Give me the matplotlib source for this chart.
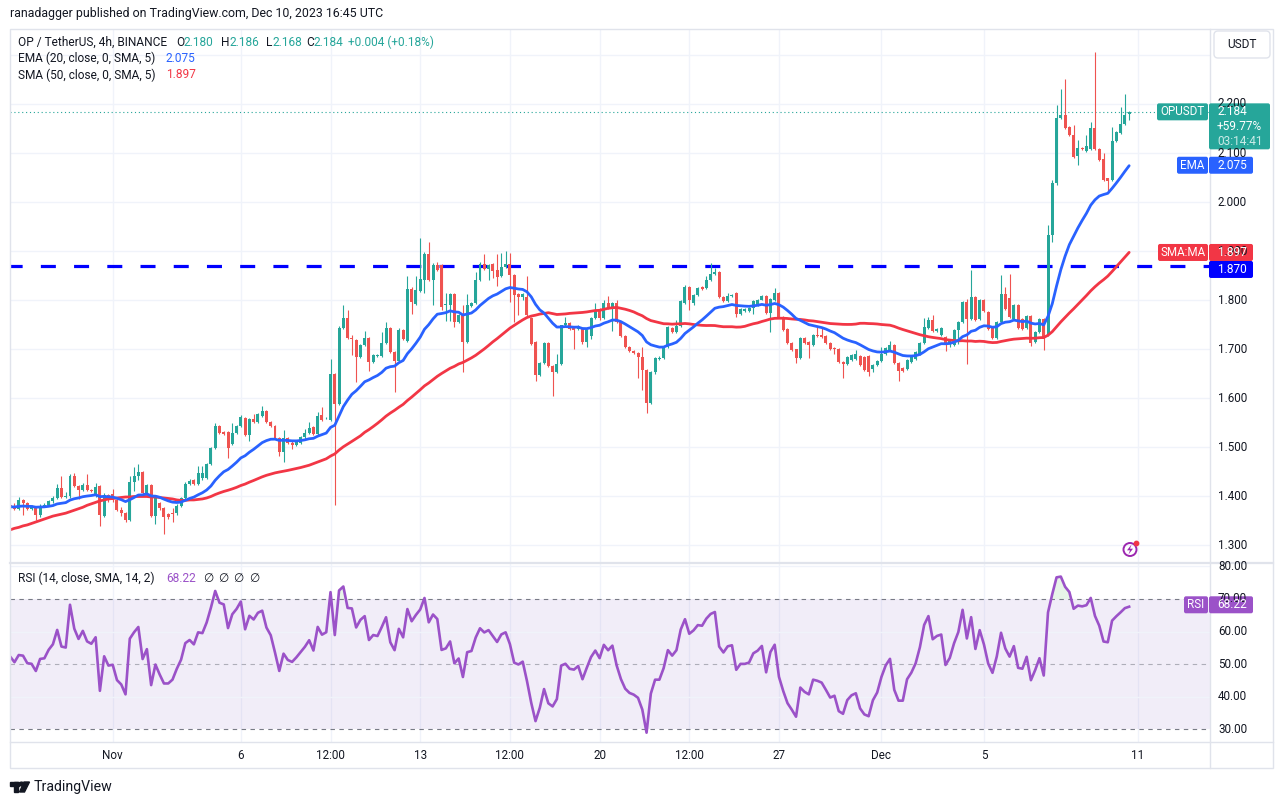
import numpy as np
import pandas as pd
import matplotlib
matplotlib.use("Agg")
import matplotlib.pyplot as plt
from matplotlib.patches import FancyBboxPatch, Circle, Polygon, Rectangle

W, H = 1284, 805
plt.rcParams['font.family'] = ['Roboto', 'DejaVu Sans']

# ---------------- data (4h candles, Oct 28 00:00 -> Dec 10 16:00) ----------------
opens = [
    1.382, 1.380, 1.374, 1.391, 1.385, 1.374, 1.377, 1.362, 1.380, 1.382,
    1.389, 1.395, 1.416, 1.398, 1.399, 1.440, 1.421, 1.412, 1.422, 1.413,
    1.404, 1.420, 1.360, 1.403, 1.404, 1.392, 1.372, 1.366, 1.352, 1.428,
    1.440, 1.450, 1.406, 1.423, 1.359, 1.386, 1.376, 1.363, 1.365, 1.365,
    1.379, 1.395, 1.424, 1.432, 1.425, 1.436, 1.436, 1.466, 1.498, 1.543,
    1.530, 1.530, 1.507, 1.529, 1.542, 1.559, 1.525, 1.557, 1.552, 1.563,
    1.573, 1.552, 1.542, 1.518, 1.489, 1.518, 1.508, 1.505, 1.509, 1.520,
    1.528, 1.540, 1.526, 1.565, 1.559, 1.556, 1.649, 1.588, 1.743, 1.763,
    1.722, 1.719, 1.683, 1.709, 1.722, 1.673, 1.686, 1.686, 1.712, 1.742,
    1.693, 1.676, 1.738, 1.716, 1.823, 1.791, 1.818, 1.840, 1.893, 1.840,
    1.872, 1.871, 1.790, 1.789, 1.813, 1.755, 1.769, 1.715, 1.788, 1.794,
    1.840, 1.874, 1.864, 1.873, 1.861, 1.848, 1.868, 1.874, 1.851, 1.812,
    1.806, 1.806, 1.763, 1.715, 1.646, 1.672, 1.712, 1.665, 1.654, 1.669,
    1.748, 1.753, 1.743, 1.740, 1.740, 1.715, 1.727, 1.763, 1.781, 1.763,
    1.793, 1.783, 1.793, 1.756, 1.727, 1.705, 1.695, 1.691, 1.684, 1.657,
    1.589, 1.654, 1.680, 1.682, 1.705, 1.743, 1.735, 1.746, 1.794, 1.827,
    1.793, 1.810, 1.826, 1.824, 1.841, 1.853, 1.858, 1.807, 1.797, 1.809,
    1.814, 1.771, 1.778, 1.778, 1.783, 1.790, 1.801, 1.808, 1.773, 1.800,
    1.814, 1.766, 1.740, 1.713, 1.699, 1.681, 1.722, 1.715, 1.708, 1.729,
    1.729, 1.727, 1.712, 1.703, 1.701, 1.674, 1.669, 1.678, 1.679, 1.686,
    1.684, 1.686, 1.659, 1.668, 1.675, 1.690, 1.697, 1.709, 1.672, 1.661,
    1.659, 1.673, 1.679, 1.690, 1.713, 1.743, 1.759, 1.736, 1.728, 1.724,
    1.711, 1.709, 1.738, 1.755, 1.796, 1.762, 1.806, 1.762, 1.801, 1.776,
    1.743, 1.722, 1.755, 1.813, 1.804, 1.762, 1.790, 1.762, 1.743, 1.767,
    1.714, 1.735, 1.762, 1.728, 1.932, 2.039, 2.171, 2.178, 2.153, 2.137,
    2.094, 2.110, 2.105, 2.109, 2.151, 2.109, 2.087, 2.048, 2.044, 2.124,
    2.141, 2.160, 2.180,
]
highs = [
    1.386, 1.386, 1.398, 1.393, 1.387, 1.381, 1.379, 1.384, 1.385, 1.391,
    1.399, 1.425, 1.441, 1.408, 1.444, 1.447, 1.423, 1.426, 1.445, 1.415,
    1.426, 1.422, 1.406, 1.405, 1.415, 1.394, 1.377, 1.368, 1.440, 1.459,
    1.466, 1.452, 1.425, 1.425, 1.398, 1.388, 1.378, 1.366, 1.376, 1.383,
    1.397, 1.428, 1.434, 1.434, 1.462, 1.462, 1.468, 1.500, 1.549, 1.545,
    1.532, 1.532, 1.550, 1.545, 1.566, 1.561, 1.559, 1.568, 1.570, 1.584,
    1.575, 1.554, 1.544, 1.520, 1.535, 1.520, 1.512, 1.514, 1.522, 1.536,
    1.551, 1.542, 1.572, 1.582, 1.561, 1.680, 1.651, 1.746, 1.789, 1.780,
    1.728, 1.721, 1.711, 1.736, 1.724, 1.690, 1.689, 1.734, 1.756, 1.744,
    1.695, 1.742, 1.740, 1.849, 1.826, 1.850, 1.927, 1.897, 1.918, 1.876,
    1.878, 1.873, 1.814, 1.815, 1.815, 1.771, 1.790, 1.812, 1.796, 1.857,
    1.878, 1.894, 1.874, 1.875, 1.894, 1.896, 1.900, 1.896, 1.853, 1.814,
    1.815, 1.850, 1.765, 1.717, 1.674, 1.714, 1.714, 1.667, 1.690, 1.750,
    1.765, 1.755, 1.745, 1.748, 1.742, 1.741, 1.765, 1.793, 1.783, 1.800,
    1.808, 1.795, 1.800, 1.758, 1.729, 1.707, 1.697, 1.693, 1.704, 1.659,
    1.656, 1.684, 1.685, 1.707, 1.747, 1.745, 1.759, 1.799, 1.831, 1.829,
    1.812, 1.826, 1.828, 1.848, 1.875, 1.865, 1.860, 1.809, 1.815, 1.813,
    1.816, 1.783, 1.783, 1.785, 1.799, 1.803, 1.810, 1.810, 1.805, 1.824,
    1.816, 1.768, 1.742, 1.715, 1.701, 1.724, 1.724, 1.717, 1.731, 1.745,
    1.744, 1.729, 1.714, 1.705, 1.703, 1.676, 1.685, 1.690, 1.698, 1.688,
    1.686, 1.688, 1.670, 1.677, 1.704, 1.704, 1.716, 1.711, 1.674, 1.663,
    1.679, 1.686, 1.696, 1.715, 1.763, 1.765, 1.769, 1.743, 1.745, 1.726,
    1.720, 1.740, 1.757, 1.798, 1.803, 1.862, 1.808, 1.803, 1.803, 1.778,
    1.745, 1.757, 1.852, 1.827, 1.854, 1.792, 1.792, 1.764, 1.769, 1.769,
    1.737, 1.764, 1.764, 1.954, 2.045, 2.197, 2.230, 2.250, 2.155, 2.158,
    2.126, 2.112, 2.136, 2.163, 2.306, 2.111, 2.099, 2.050, 2.153, 2.145,
    2.193, 2.221, 2.186,
]
lows = [
    1.373, 1.371, 1.372, 1.362, 1.372, 1.372, 1.352, 1.358, 1.378, 1.379,
    1.386, 1.393, 1.396, 1.395, 1.396, 1.419, 1.394, 1.410, 1.411, 1.409,
    1.398, 1.338, 1.358, 1.388, 1.388, 1.369, 1.360, 1.346, 1.350, 1.410,
    1.432, 1.404, 1.403, 1.357, 1.342, 1.372, 1.323, 1.354, 1.346, 1.362,
    1.377, 1.393, 1.422, 1.422, 1.423, 1.433, 1.434, 1.464, 1.496, 1.527,
    1.525, 1.478, 1.505, 1.527, 1.540, 1.523, 1.512, 1.550, 1.550, 1.561,
    1.549, 1.540, 1.516, 1.482, 1.469, 1.506, 1.495, 1.503, 1.506, 1.517,
    1.526, 1.524, 1.524, 1.553, 1.557, 1.554, 1.381, 1.585, 1.741, 1.720,
    1.687, 1.633, 1.681, 1.707, 1.656, 1.671, 1.683, 1.684, 1.710, 1.691,
    1.613, 1.674, 1.718, 1.714, 1.772, 1.789, 1.816, 1.815, 1.838, 1.789,
    1.860, 1.779, 1.758, 1.757, 1.744, 1.753, 1.653, 1.713, 1.786, 1.792,
    1.838, 1.862, 1.841, 1.845, 1.828, 1.846, 1.866, 1.796, 1.756, 1.770,
    1.800, 1.768, 1.708, 1.635, 1.644, 1.670, 1.663, 1.605, 1.652, 1.667,
    1.746, 1.738, 1.700, 1.738, 1.710, 1.705, 1.720, 1.761, 1.760, 1.761,
    1.781, 1.736, 1.754, 1.725, 1.703, 1.693, 1.689, 1.640, 1.616, 1.569,
    1.587, 1.650, 1.678, 1.680, 1.703, 1.732, 1.733, 1.744, 1.792, 1.780,
    1.789, 1.808, 1.821, 1.822, 1.839, 1.851, 1.805, 1.795, 1.795, 1.807,
    1.766, 1.769, 1.776, 1.776, 1.771, 1.788, 1.799, 1.771, 1.735, 1.798,
    1.764, 1.737, 1.711, 1.696, 1.671, 1.679, 1.711, 1.681, 1.706, 1.725,
    1.722, 1.710, 1.697, 1.690, 1.672, 1.640, 1.667, 1.676, 1.677, 1.665,
    1.655, 1.645, 1.654, 1.666, 1.673, 1.688, 1.695, 1.670, 1.634, 1.653,
    1.657, 1.671, 1.677, 1.688, 1.711, 1.741, 1.734, 1.734, 1.726, 1.695,
    1.704, 1.707, 1.711, 1.753, 1.670, 1.760, 1.757, 1.760, 1.775, 1.739,
    1.720, 1.720, 1.753, 1.780, 1.763, 1.760, 1.741, 1.739, 1.741, 1.707,
    1.712, 1.733, 1.697, 1.726, 1.918, 2.035, 2.169, 2.149, 2.135, 2.090,
    2.076, 2.106, 2.103, 2.107, 2.107, 2.083, 2.042, 2.020, 2.042, 2.122,
    2.139, 2.158, 2.168,
]
closes = [
    1.378, 1.374, 1.391, 1.385, 1.374, 1.377, 1.362, 1.380, 1.382, 1.389,
    1.395, 1.416, 1.398, 1.399, 1.440, 1.421, 1.412, 1.422, 1.413, 1.411,
    1.418, 1.362, 1.403, 1.391, 1.392, 1.372, 1.366, 1.352, 1.428, 1.440,
    1.450, 1.406, 1.423, 1.359, 1.396, 1.376, 1.357, 1.357, 1.363, 1.380,
    1.395, 1.425, 1.431, 1.425, 1.447, 1.446, 1.466, 1.498, 1.543, 1.529,
    1.527, 1.498, 1.529, 1.542, 1.561, 1.525, 1.557, 1.552, 1.568, 1.573,
    1.552, 1.542, 1.518, 1.489, 1.518, 1.508, 1.505, 1.512, 1.520, 1.528,
    1.538, 1.526, 1.564, 1.555, 1.559, 1.649, 1.588, 1.743, 1.763, 1.722,
    1.721, 1.683, 1.709, 1.722, 1.673, 1.688, 1.686, 1.712, 1.742, 1.693,
    1.676, 1.738, 1.720, 1.822, 1.795, 1.820, 1.842, 1.893, 1.840, 1.872,
    1.862, 1.786, 1.791, 1.813, 1.755, 1.769, 1.715, 1.790, 1.794, 1.840,
    1.874, 1.864, 1.872, 1.859, 1.846, 1.868, 1.874, 1.851, 1.811, 1.807,
    1.813, 1.770, 1.710, 1.646, 1.672, 1.712, 1.665, 1.654, 1.669, 1.748,
    1.753, 1.740, 1.738, 1.746, 1.715, 1.739, 1.763, 1.778, 1.763, 1.793,
    1.783, 1.793, 1.756, 1.727, 1.705, 1.695, 1.691, 1.684, 1.657, 1.589,
    1.654, 1.682, 1.682, 1.705, 1.745, 1.734, 1.746, 1.797, 1.827, 1.801,
    1.810, 1.824, 1.823, 1.841, 1.853, 1.858, 1.807, 1.797, 1.809, 1.811,
    1.771, 1.781, 1.781, 1.783, 1.797, 1.801, 1.808, 1.773, 1.803, 1.815,
    1.766, 1.739, 1.713, 1.698, 1.681, 1.722, 1.713, 1.708, 1.729, 1.727,
    1.724, 1.712, 1.699, 1.701, 1.674, 1.669, 1.683, 1.688, 1.690, 1.667,
    1.657, 1.654, 1.668, 1.675, 1.690, 1.702, 1.709, 1.672, 1.656, 1.656,
    1.677, 1.684, 1.694, 1.713, 1.745, 1.760, 1.736, 1.741, 1.743, 1.709,
    1.718, 1.738, 1.755, 1.796, 1.762, 1.806, 1.759, 1.801, 1.777, 1.741,
    1.722, 1.755, 1.813, 1.782, 1.765, 1.790, 1.743, 1.741, 1.767, 1.713,
    1.735, 1.762, 1.721, 1.932, 2.039, 2.171, 2.178, 2.151, 2.137, 2.092,
    2.110, 2.108, 2.114, 2.151, 2.109, 2.085, 2.044, 2.042, 2.124, 2.143,
    2.160, 2.178, 2.184,
]
# SMA(50) values for the first 49 candles (history before the window)
sma50_start = [
    1.331, 1.334, 1.336, 1.339, 1.341, 1.344, 1.347, 1.350, 1.353, 1.356,
    1.359, 1.361, 1.363, 1.365, 1.368, 1.371, 1.374, 1.377, 1.381, 1.384,
    1.387, 1.390, 1.392, 1.394, 1.395, 1.396, 1.397, 1.398, 1.398, 1.399,
    1.399, 1.399, 1.399, 1.398, 1.398, 1.397, 1.396, 1.395, 1.394, 1.392,
    1.391, 1.391, 1.392, 1.392, 1.393, 1.394, 1.396, 1.399, 1.403,
]
# RSI(14) values for the first 14 candles
rsi_start = [52.3, 50.6, 52.8, 52.6, 50.3, 50.1, 47.9, 51.6, 51.8, 54.4,
             56.1, 60.5, 55.4, 55.1]

tick_pos = [24, 54, 75, 96, 117, 138, 159, 180, 204, 228, 264]
tick_labels = ["Nov", "6", "12:00", "13", "12:00", "20", "12:00", "27", "Dec", "5", "11"]
price_ticks = [1.3, 1.4, 1.5, 1.6, 1.7, 1.8, 1.9, 2.0, 2.1, 2.2, 2.3]
rsi_ticks = [30, 40, 50, 60, 70, 80]
level = 1.870
last_o, last_h, last_l, last_c = 2.180, 2.186, 2.168, 2.184
chg, chg_pct, pct_total = 0.004, 0.18, 59.77
ema_last, sma_last, rsi_last = 2.075, 1.897, 68.22
countdown = "03:14:41"

# ---------------- indicators ----------------
n = len(closes)
assert len(opens) == n and len(highs) == n and len(lows) == n
o = np.array(opens); h = np.array(highs); l = np.array(lows); c = np.array(closes)
x = np.arange(n)
ema20 = pd.Series(c).ewm(span=20, adjust=False).mean().values
sma50 = pd.Series(c).rolling(50).mean().values
sma50[:len(sma50_start)] = sma50_start
d = np.diff(c)
g = np.clip(d, 0, None); ls = np.clip(-d, 0, None)
ag = np.full(n, np.nan); al = np.full(n, np.nan)
ag[14] = g[:14].mean(); al[14] = ls[:14].mean()
for i in range(15, n):
    ag[i] = (ag[i - 1] * 13 + g[i - 1]) / 14
    al[i] = (al[i - 1] * 13 + ls[i - 1]) / 14
rsi = np.full(n, np.nan)
rsi[14:] = 100 - 100 / (1 + ag[14:] / al[14:])
rsi[:14] = rsi_start

# ---------------- styling ----------------
UP, DN = '#26a69a', '#ef5350'
EMA_C, SMA_C = '#2962ff', '#f23645'
RSI_C = '#9b52c8'
TXT = '#131722'
GRID = '#f0f3fa'
BORDER = '#e0e3eb'

fig = plt.figure(figsize=(W / 100, H / 100), dpi=100)
fig.patch.set_facecolor('white')

def fx(px_):
    return px_ / W

def fy(py_):
    return 1 - py_ / H

ax = fig.add_axes([fx(10), fy(563), fx(1210) - fx(10), fy(29) - fy(563)])
ax2 = fig.add_axes([fx(10), fy(742), fx(1210) - fx(10), fy(563) - fy(742)])
for a in (ax, ax2):
    a.set_xlim(-0.05, 280.93)
    for s in a.spines.values():
        s.set_visible(False)
    a.set_xticks([]); a.set_yticks([])
    a.set_facecolor('white')
ax.set_ylim(1.26327, 2.35306)
ax2.set_ylim(26.10, 81.05)

for p in price_ticks:
    ax.axhline(p, color=GRID, lw=1.0, zorder=0)
for t in tick_pos:
    ax.axvline(t, color=GRID, lw=1.0, zorder=0)
    ax2.axvline(t, color=GRID, lw=1.0, zorder=0)

# level line
ax.axhline(level, color='#0000ff', lw=2.3, linestyle=(0.9, (4.7, 5.7)), zorder=2)
# last price dotted
ax.axhline(last_c, color=UP, lw=0.8, linestyle=(0, (1, 2.5)), zorder=2)

# candles
col = np.where(c >= o, UP, DN)
ax.vlines(x, l, h, colors=col, lw=0.8, zorder=3)
body = np.maximum(np.abs(c - o), 0.0016)
ax.bar(x, body, bottom=np.minimum(o, c) - (body - np.abs(c - o)) / 2,
       width=0.70, color=col, linewidth=0, zorder=4)

ax.plot(x, sma50, color=SMA_C, lw=2.0, zorder=5, solid_capstyle='round')
ax.plot(x, ema20, color=EMA_C, lw=2.0, zorder=6, solid_capstyle='round')

# RSI pane
ax2.axhspan(30, 70, color='#7e57c2', alpha=0.10, lw=0, zorder=0)
for r in (40, 60, 80):
    ax2.axhline(r, color=GRID, lw=1.0, zorder=0.5)
ax2.axhline(70, color='#787b86', lw=0.8, linestyle=(0, (4, 4)), zorder=1)
ax2.axhline(30, color='#787b86', lw=0.8, linestyle=(0, (4, 4)), zorder=1)
ax2.axhline(50, color='#787b86', lw=0.8, alpha=0.55, linestyle=(0, (4, 4)), zorder=1)
ax2.fill_between(x, 70, rsi, where=rsi >= 70, interpolate=True,
                 color='#4caf50', alpha=0.13, lw=0, zorder=1.5)
ax2.plot(x, rsi, color=RSI_C, lw=1.9, zorder=3)

# ---------------- overlay (texts, labels, frame) ----------------
ov = fig.add_axes([0, 0, 1, 1])
ov.set_xlim(0, W); ov.set_ylim(H, 0)
ov.axis('off'); ov.set_zorder(10); ov.patch.set_alpha(0)

def py(v):
    return H - ax.transData.transform((0, v))[1]

def ry(v):
    return H - ax2.transData.transform((0, v))[1]

def pxi(i):
    return ax.transData.transform((i, 1.5))[0]

def T(xx, yy, s, color=TXT, size=8.6, ha='left', va='center', **kw):
    ov.text(xx, yy, s, color=color, fontsize=size, ha=ha, va=va, zorder=8, **kw)

def box(x0, y0, x1, y1, color, r=2.0, z=6, ec='none', lw=0):
    ov.add_patch(FancyBboxPatch((x0, y0), x1 - x0, y1 - y0,
                                boxstyle=f"round,pad=0,rounding_size={r}",
                                fc=color, ec=ec, lw=lw, zorder=z))

# frame
ov.add_patch(Rectangle((10, 29), 1263, 739, fill=False, ec=BORDER, lw=1.0, zorder=4))
ov.plot([10, 1273], [563, 563], color=BORDER, lw=1.6, zorder=4)
ov.plot([10, 1273], [742, 742], color=BORDER, lw=1.0, zorder=4)
ov.plot([1210, 1210], [29, 768], color=BORDER, lw=1.0, zorder=4)

# header
T(10, 14, "ranadagger published on TradingView.com, Dec 10, 2023 16:45 UTC", size=8.9)
T(18, 42, "OP / TetherUS, 4h, BINANCE", size=8.6)
T(176, 42, "O", size=8.6); T(183.5, 42, f"{last_o:.3f}", color=UP, size=8.6)
T(221, 42, "H", size=8.6); T(229, 42, f"{last_h:.3f}", color=UP, size=8.6)
T(266, 42, "L", size=8.6); T(272.5, 42, f"{last_l:.3f}", color=UP, size=8.6)
T(306, 42, "C", size=8.6); T(313, 42, f"{last_c:.3f}", color=UP, size=8.6)
T(348, 42, f"+{chg:.3f} (+{chg_pct:.2f}%)", color=UP, size=8.6)
T(18, 58.5, "EMA (20, close, 0, SMA, 5)", size=8.6)
T(166, 58.5, f"{ema_last:.3f}", color=EMA_C, size=8.6)
T(18, 75, "SMA (50, close, 0, SMA, 5)", size=8.6)
T(166, 75, f"{sma_last:.3f}", color=SMA_C, size=8.6)
T(18, 578, "RSI (14, close, SMA, 14, 2)", size=8.6)
T(166, 578, f"{rsi_last:.2f}", color=RSI_C, size=8.6)
for k in range(4):
    T(203 + 15.3 * k, 578, "\u2205", size=8.6, family=['DejaVu Sans'])

# price axis labels (the top one sits under the currency button)
for p in price_ticks:
    yy = py(p)
    if 62 < yy < 560:
        T(1218, yy, f"{p:.3f}", size=8.4)
for r in rsi_ticks:
    T(1218, ry(r), f"{r:.2f}", size=8.4)

# time labels
for t, lab in zip(tick_pos, tick_labels):
    T(pxi(t), 755, lab, size=8.4, ha='center')

# USDT button
box(1214, 31, 1270, 58, 'white', r=4, ec=BORDER, lw=1.0, z=7)
T(1242, 44.5, "USDT", size=8.6, ha='center')

# last price labels
yl = py(last_c)
box(1157, yl - 8.5, 1208, yl + 8.5, UP)
T(1182.5, yl, "OPUSDT", color='white', size=8.4, ha='center')
box(1209, yl - 8.5, 1270, yl + 37.5, UP)
T(1217, yl, f"{last_c:.3f}", color='white', size=8.6)
T(1217, yl + 15, f"+{pct_total:.2f}%", color='white', size=8.6)
T(1217, yl + 30, countdown, color='#c9ebe7', size=8.6)

# EMA label
ye = py(ema_last)
box(1177, ye - 8.5, 1208, ye + 8.5, EMA_C)
T(1192.5, ye, "EMA", color='white', size=8.4, ha='center')
box(1209, ye - 8.5, 1253, ye + 8.5, EMA_C)
T(1217, ye, f"{ema_last:.3f}", color='white', size=8.6)

# SMA label
ys = py(sma_last)
box(1158, ys - 8.5, 1208, ys + 8.5, SMA_C)
T(1183, ys, "SMA:MA", color='white', size=8.4, ha='center')
box(1209, ys - 8.5, 1253, ys + 8.5, SMA_C)
T(1217, ys, f"{sma_last:.3f}", color='white', size=8.6)

# level label (pushed below SMA label to avoid overlap)
yv = max(py(level), ys + 17)
box(1209, yv - 8.5, 1253, yv + 8.5, '#0000ff')
T(1217, yv, f"{level:.3f}", color='white', size=8.6)

# RSI label
yr = ry(rsi_last)
box(1184, yr - 8.5, 1208, yr + 8.5, RSI_C)
T(1196, yr, "RSI", color='white', size=8.4, ha='center')
box(1209, yr - 8.5, 1253, yr + 8.5, RSI_C)
T(1217, yr, f"{rsi_last:.2f}", color='white', size=8.6)

# lightning icon
ov.add_patch(Circle((1130, 549.5), 6.5, fill=False, ec='#9c27b0', lw=1.4, zorder=7))
ov.add_patch(Polygon([(1131.5, 544.5), (1127, 550.3), (1130, 550.3), (1128.5, 554.5),
                      (1133, 548.7), (1130, 548.7)], closed=True, fc='#9c27b0',
                     ec='none', zorder=7))
ov.add_patch(Circle((1136.5, 543.5), 2.2, color='#f23645', zorder=8))

# TradingView logo
ov.add_patch(Rectangle((10, 782), 9, 3.5, color=TXT, zorder=7))
ov.add_patch(Rectangle((14, 782), 4, 10, color=TXT, zorder=7))
ov.add_patch(Circle((21.5, 784), 1.9, color=TXT, zorder=7))
ov.add_patch(Polygon([(24, 782), (29.5, 782), (24.5, 792), (19.5, 792)], closed=True,
                     color=TXT, zorder=7))
T(34, 787, "TradingView", size=10.2)

fig.savefig("out.png", dpi=100, facecolor='white')
